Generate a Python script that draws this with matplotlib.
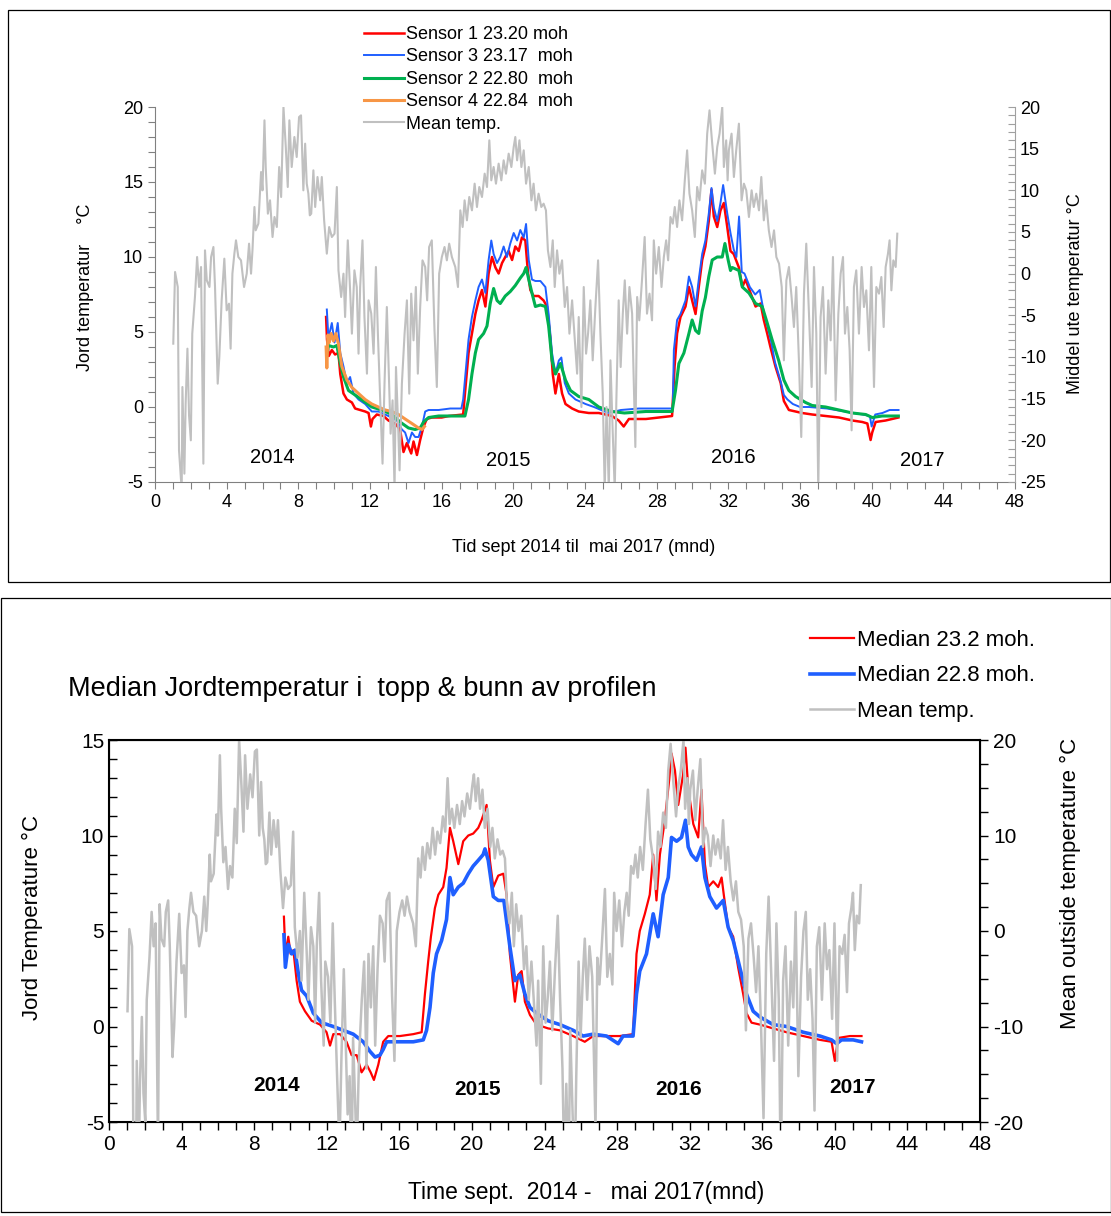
import matplotlib
matplotlib.use("Agg")
import matplotlib.pyplot as plt
from matplotlib.patches import Rectangle
from matplotlib.ticker import MultipleLocator
from matplotlib import font_manager

plt.rcParams['font.family'] = ['Liberation Sans', 'DejaVu Sans']
plt.rcParams['axes.unicode_minus'] = False

# condensed font for the lower x axis, if available
names = {f.name for f in font_manager.fontManager.ttflist}
NARROW = ['Liberation Sans Narrow', 'Liberation Sans'] if 'Liberation Sans Narrow' in names else ['Liberation Sans']

### Data (months since start, degC) ###
# daily mean outside temperature (same series in both panels, right axis)
mean_month = [
    1.02, 1.12, 1.27, 1.34, 1.49, 1.53, 1.64, 1.71, 1.81, 1.90,
    2.00, 2.08, 2.23, 2.35, 2.46, 2.57, 2.70, 2.79, 2.89, 3.04,
    3.13, 3.26, 3.35, 3.50, 3.59, 3.72, 3.87, 4.00, 4.13, 4.22,
    4.32, 4.43, 4.52, 4.65, 4.80, 4.97, 5.12, 5.25, 5.36, 5.44,
    5.55, 5.62, 5.77, 5.92, 6.00, 6.11, 6.18, 6.30, 6.42, 6.56,
    6.67, 6.80, 6.93, 7.04, 7.17, 7.30, 7.41, 7.50, 7.63, 7.78,
    7.91, 8.04, 8.15, 8.28, 8.38, 8.47, 8.56, 8.64, 8.72, 8.84,
    8.94, 9.07, 9.22, 9.31, 9.44, 9.59, 9.72, 9.87, 10.02, 10.15,
    10.24, 10.39, 10.52, 10.61, 10.76, 10.89, 10.99, 11.13, 11.26, 11.36,
    11.45, 11.58, 11.69, 11.83, 11.92, 12.07, 12.20, 12.33, 12.44, 12.57,
    12.70, 12.81, 12.94, 13.03, 13.15, 13.26, 13.37, 13.45, 13.56, 13.65,
    13.78, 13.93, 14.06, 14.19, 14.30, 14.43, 14.56, 14.67, 14.80, 14.93,
    15.08, 15.19, 15.30, 15.45, 15.60, 15.73, 15.86, 16.01, 16.16, 16.29,
    16.42, 16.57, 16.76, 16.91, 17.04, 17.17, 17.28, 17.41, 17.54, 17.69,
    17.84, 17.97, 18.10, 18.25, 18.40, 18.53, 18.66, 18.77, 18.90, 19.03,
    19.18, 19.33, 19.46, 19.59, 19.74, 19.89, 20.02, 20.11, 20.21, 20.34,
    20.45, 20.58, 20.71, 20.86, 21.01, 21.13, 21.26, 21.41, 21.56, 21.69,
    21.82, 21.93, 22.07, 22.20, 22.31, 22.44, 22.57, 22.72, 22.87, 23.00,
    23.13, 23.28, 23.43, 23.56, 23.65, 23.80, 23.93, 24.06, 24.17, 24.30,
    24.43, 24.58, 24.73, 24.86, 24.99, 25.10, 25.20, 25.33, 25.42, 25.55,
    25.66, 25.75, 25.88, 25.99, 26.11, 26.22, 26.35, 26.48, 26.63, 26.81,
    26.91, 27.03, 27.18, 27.33, 27.46, 27.60, 27.74, 27.84, 27.97, 28.12,
    28.27, 28.40, 28.53, 28.64, 28.77, 28.90, 29.01, 29.14, 29.27, 29.42,
    29.57, 29.70, 29.83, 29.98, 30.13, 30.26, 30.39, 30.54, 30.69, 30.82,
    30.95, 31.10, 31.25, 31.38, 31.51, 31.66, 31.75, 31.88, 31.96, 32.03,
    32.18, 32.31, 32.44, 32.59, 32.74, 32.87, 33.00, 33.15, 33.30, 33.42,
    33.56, 33.71, 33.84, 33.98, 34.11, 34.26, 34.41, 34.55, 34.68, 34.83,
    34.98, 35.10, 35.24, 35.38, 35.53, 35.66, 35.79, 35.94, 36.07, 36.22,
    36.35, 36.50, 36.65, 36.78, 36.91, 37.02, 37.15, 37.28, 37.43, 37.58,
    37.71, 37.84, 37.99, 38.14, 38.27, 38.40, 38.51, 38.64, 38.77, 38.88,
    39.01, 39.14, 39.29, 39.44, 39.57, 39.70, 39.85, 39.98, 40.13, 40.26,
    40.41, 40.54, 40.67, 40.78, 40.91, 41.00, 41.10, 41.21, 41.34, 41.43,
]
mean_temp = [
    -8.4, 0.2, -1.6, -21.2, -26, -13.6, -24, -15.6, -9, -17,
    -20, -7.2, -2.8, 2.0, -1.6, 0.8, -22.8, 2.8, -0.8, -1.6,
    2.0, 3.2, -1.6, -13.2, -10, -3.2, 1.8, -4.4, -3.6, -9,
    0, 2.4, 4.0, 2.0, 1.6, -1.6, 0, 3.6, 0, 2.8,
    8.0, 5.2, 6.0, 12.2, 10.0, 18.4, 12.8, 7.2, 8.8, 4.4,
    6.8, 5.6, 12.8, 9.2, 20, 15.2, 10.4, 18.4, 12.8, 16.4,
    14.0, 18.8, 19.0, 10.0, 15.6, 10.8, 9.6, 7.0, 7.2, 12.4,
    8.0, 11.6, 8.8, 11.6, 6.4, 2.4, 5.6, 4.4, 4.8, 10.4,
    0.4, -2.8, 0, -5.2, 4.0, -2.0, -7.2, 0.4, -1.6, -9.6,
    -1.6, 4.0, -5.2, -12, -3.2, -4.8, -9.6, 0.8, -7.2, -15.2,
    -22.8, -13.2, -4.0, -10.4, -19.2, -15.2, -26, -11.2, -17.6, -23.6,
    -13.2, -7.2, -3.2, -14.4, -2.4, -8, -1.6, -12, -4, 1.6,
    0.8, -3.2, 3.2, 4.0, -6.8, -13.6, 0, 2.0, 3.2, 1.6,
    3.6, 2.0, 0.8, -1.6, 7.6, 5.6, 8.8, 6.4, 9.2, 7.6,
    10.8, 8.0, 10.4, 9.2, 12.0, 10.4, 16, 11.2, 12.8, 10.8,
    13.2, 11.2, 13.6, 12.0, 14.4, 12.8, 15.2, 16.4, 13.6, 16,
    12.8, 14.8, 10.8, 12.8, 8.8, 10.8, 7.6, 9.6, 8.0, 8.4,
    7.6, 2.8, 0.8, 4.0, -1.6, 2.8, 0, 1.6, -4.0, -1.6,
    -7.2, -3.2, -8, -12, -5.2, -16, -1.6, -9.6, -7.2, -3.2,
    -10.4, -4.0, 1.6, -7.2, -14.4, -26, -16, -26, -10.4, -19.2,
    -26, -15.2, -3.2, -11.2, -4.8, -0.8, -7.2, -1.6, -4.8, -20.8,
    -2.8, -5.6, -0.8, 4.4, -4.8, -2.4, -5.6, 4.0, 0, 3.2,
    -1.6, 2.0, 4.0, 1.6, 6.8, 6.0, 8.0, 5.6, 8.8, 6.4,
    11.2, 14.8, 9.6, 7.6, 4.4, 10.4, 8.8, 12.4, 10.8, 16.8,
    19.6, 15.6, 12.0, 15.2, 16.8, 20, 12.8, 16.0, 11.2, 14.8,
    16.8, 11.6, 14.8, 18.0, 8.8, 10.8, 10.0, 6.8, 10.0, 8.0,
    9.6, 7.6, 11.6, 6.4, 8.8, 5.2, 3.2, 5.2, 2.0, 1.2,
    -1.6, -10.4, -0.8, 0.8, -2.8, -6.4, -1.6, -10.4, -19.6, -2.4,
    3.6, -4.8, -13.6, 0.8, -7.2, -26, -5.2, -1.6, -12, -3.2,
    -8, 2.0, -15.2, -4.8, 0, 2.0, -7.2, -4.0, -9.2, -18.8,
    -1.6, 0.4, -7.2, 0.8, -4.0, -2.0, -9.2, 0.8, -13.6, -1.6,
    -2.4, -0.4, -6.4, 0.8, 2.4, 4.0, -2.0, 1.6, 0.8, 4.8,
]

# top panel: soil sensors
s1_month = [
    9.55, 9.60, 9.70, 9.87, 10.05, 10.24, 10.34, 10.52, 10.71, 10.99,
    11.17, 11.45, 11.73, 11.92, 12.05, 12.14, 12.38, 12.75, 13.03, 13.40,
    13.68, 13.87, 14.06, 14.30, 14.43, 14.62, 14.80, 14.99, 15.17, 15.45,
    16.00, 16.40, 17.20, 17.30, 17.50, 17.69, 17.88, 18.06, 18.25, 18.44,
    18.62, 18.81, 19.00, 19.18, 19.37, 19.55, 19.74, 19.93, 20.11, 20.30,
    20.48, 20.67, 20.82, 20.95, 21.13, 21.41, 21.69, 21.88, 22.07, 22.20,
    22.35, 22.54, 22.72, 22.91, 23.28, 23.65, 24.21, 24.77, 25.50, 25.88,
    26.16, 26.45, 27.40, 28.86, 29.00, 29.14, 29.33, 29.61, 29.80, 29.98,
    30.17, 30.35, 30.54, 30.72, 30.91, 31.06, 31.19, 31.38, 31.56, 31.75,
    31.94, 32.12, 32.30, 32.59, 32.78, 32.96, 33.24, 33.52, 33.80, 33.98,
    34.17, 34.35, 34.63, 34.92, 35.10, 35.38, 35.75, 36.12, 36.68, 37.43,
    38.18, 38.92, 39.48, 39.76, 39.94, 40.03, 40.22, 40.78, 41.49,
]
s1_temp = [
    6.0, 4.5, 3.4, 3.8, 3.5, 3.6, 2.2, 0.9, 0.5, 0.3,
    -0.1, -0.2, -0.3, -0.4, -1.3, -0.8, -0.5, -0.6, -0.9, -1.1,
    -1.5, -3.0, -2.4, -3.1, -2.3, -3.2, -2.2, -1.3, -0.8, -0.7,
    -0.7, -0.6, -0.5, 0.9, 3.6, 4.9, 6.2, 7.1, 7.8, 6.7,
    8.9, 10.0, 9.3, 8.9, 9.6, 10.0, 10.4, 9.8, 10.7, 10.4,
    11.3, 11.1, 8.9, 7.8, 7.4, 7.4, 7.1, 6.7, 4.5, 2.2,
    0.9, 2.2, 0.9, 0.2, -0.1, -0.3, -0.4, -0.4, -0.6, -0.9,
    -1.3, -0.8, -0.8, -0.6, 2.7, 4.9, 6.0, 6.7, 8.0, 7.1,
    6.2, 8.0, 9.8, 10.7, 12.4, 14.5, 12.7, 12.0, 13.1, 13.6,
    12.0, 10.4, 10.2, 9.3, 8.0, 8.5, 7.6, 6.7, 6.9, 5.8,
    4.9, 4.0, 2.7, 1.6, 0.4, -0.2, -0.3, -0.4, -0.5, -0.6,
    -0.7, -0.9, -1.0, -1.1, -2.2, -1.7, -1.0, -0.9, -0.7,
]
s3_month = [
    9.59, 9.68, 9.87, 10.02, 10.20, 10.34, 10.52, 10.71, 10.89, 11.08,
    11.36, 11.73, 12.10, 12.47, 13.03, 13.50, 13.78, 13.96, 14.15, 14.34,
    14.52, 14.71, 14.90, 15.08, 15.27, 15.83, 16.48, 17.10, 17.20, 17.35,
    17.50, 17.69, 17.88, 18.06, 18.25, 18.44, 18.62, 18.77, 18.90, 19.09,
    19.27, 19.46, 19.64, 19.83, 20.02, 20.21, 20.39, 20.58, 20.71, 20.86,
    21.04, 21.23, 21.51, 21.79, 21.97, 22.16, 22.35, 22.54, 22.68, 22.87,
    23.10, 23.47, 24.03, 24.50, 25.30, 26.00, 27.00, 28.00, 28.90, 28.96,
    29.14, 29.33, 29.61, 29.80, 29.98, 30.17, 30.35, 30.54, 30.72, 30.91,
    31.06, 31.19, 31.38, 31.56, 31.71, 31.94, 32.12, 32.30, 32.45, 32.60,
    32.75, 32.90, 33.20, 33.50, 33.75, 34.00, 34.20, 34.40, 34.60, 34.90,
    35.10, 35.30, 35.60, 36.00, 36.50, 37.50, 38.50, 39.50, 39.90, 40.00,
    40.20, 40.60, 41.00, 41.50,
]
s3_temp = [
    6.5, 4.6, 5.6, 4.3, 5.6, 3.6, 2.7, 1.6, 2.0, 0.9,
    0.5, 0.2, -0.3, -0.3, -0.6, -0.9, -1.5, -1.7, -2.4, -1.7,
    -2.0, -2.0, -1.3, -0.3, -0.2, -0.2, -0.1, -0.1, 0.5, 2.5,
    4.5, 6.0, 7.1, 8.0, 8.5, 7.6, 9.8, 11.1, 10.2, 9.6,
    10.0, 10.7, 10.0, 10.9, 11.6, 11.1, 11.8, 11.3, 12.2, 9.8,
    8.5, 8.4, 8.4, 8.0, 6.2, 3.6, 2.2, 3.1, 3.3, 1.6,
    0.9, 0.5, 0.2, 0.0, -0.4, -0.2, -0.1, -0.1, -0.1, 3.8,
    5.8, 6.2, 7.1, 8.7, 8.0, 6.7, 8.5, 10.2, 11.1, 12.9,
    14.6, 13.3, 12.4, 13.6, 14.8, 12.9, 11.6, 10.5, 10.0, 12.7,
    9.0, 8.9, 8.0, 7.5, 7.8, 6.2, 5.3, 4.3, 3.0, 1.8,
    0.8, 0.5, 0.2, 0.0, 0.0, -0.1, -0.3, -0.5, -0.6, -1.3,
    -0.5, -0.4, -0.2, -0.2,
]
s2_month = [
    9.59, 9.68, 9.96, 10.15, 10.34, 10.52, 10.80, 11.17, 11.64, 12.10,
    12.66, 13.22, 13.68, 14.15, 14.52, 14.80, 14.99, 15.27, 15.83, 16.48,
    17.30, 17.50, 17.69, 17.88, 18.06, 18.34, 18.53, 18.71, 18.90, 19.09,
    19.27, 19.55, 19.83, 20.11, 20.39, 20.58, 20.71, 20.86, 21.04, 21.23,
    21.51, 21.79, 21.97, 22.16, 22.35, 22.63, 22.91, 23.19, 23.65, 24.21,
    24.77, 25.50, 26.20, 27.40, 28.86, 29.05, 29.24, 29.52, 29.80, 29.98,
    30.17, 30.35, 30.54, 30.72, 30.91, 31.10, 31.38, 31.66, 31.81, 31.99,
    32.12, 32.22, 32.59, 32.78, 33.15, 33.52, 33.89, 34.17, 34.44, 34.81,
    35.10, 35.38, 35.75, 36.31, 36.68, 37.43, 38.18, 38.92, 39.67, 40.03,
    40.59, 41.49,
]
s2_temp = [
    3.5, 4.1, 4.0, 4.1, 2.9, 2.0, 1.1, 0.8, 0.4, 0.0,
    -0.2, -0.5, -1.0, -1.4, -1.5, -1.4, -1.0, -0.7, -0.6, -0.6,
    -0.6, 0.5, 2.2, 3.6, 4.5, 4.9, 5.4, 6.9, 7.9, 7.1,
    6.9, 7.4, 7.7, 8.1, 8.6, 8.9, 9.3, 8.5, 7.6, 6.7,
    6.8, 6.7, 5.4, 3.1, 2.2, 2.9, 1.8, 1.1, 0.7, 0.5,
    0.0, -0.3, -0.4, -0.3, -0.3, 1.1, 2.9, 3.6, 4.9, 5.8,
    5.1, 4.9, 6.4, 7.3, 8.7, 9.8, 10.0, 10.0, 10.9, 9.8,
    9.1, 9.3, 9.1, 8.0, 7.6, 6.9, 6.7, 5.6, 4.5, 3.1,
    1.8, 1.1, 0.7, 0.3, 0.1, 0.0, -0.2, -0.4, -0.5, -0.7,
    -0.6, -0.6,
]
s4_month = [
    9.55, 9.59, 9.65, 9.72, 9.83, 9.96, 10.09, 10.24, 10.43, 10.71,
    10.99, 11.36, 11.73, 12.10, 12.47, 12.85, 13.22, 13.59, 13.96, 14.34,
    14.71, 14.90, 15.04,
]
s4_temp = [
    4.0, 2.6, 4.8, 4.3, 4.9, 4.4, 4.9, 4.2, 2.7, 1.8,
    1.3, 0.9, 0.5, 0.2, 0.0, -0.2, -0.3, -0.5, -0.8, -1.1,
    -1.4, -1.5, -1.3,
]

# bottom panel: medians
top_month = [
    9.64, 9.72, 9.88, 10.01, 10.16, 10.34, 10.52, 10.80, 11.17, 11.63,
    11.99, 12.18, 12.36, 12.73, 13.09, 13.37, 13.65, 13.92, 14.20, 14.42,
    14.60, 14.84, 15.11, 15.39, 16.03, 16.77, 17.23, 17.41, 17.59, 17.74,
    17.96, 18.15, 18.42, 18.60, 18.79, 18.97, 19.25, 19.52, 19.80, 20.07,
    20.35, 20.53, 20.81, 20.99, 21.18, 21.45, 21.73, 21.91, 22.09, 22.37,
    22.55, 22.74, 22.92, 23.20, 23.56, 24.20, 24.85, 25.58, 26.22, 26.68,
    28.15, 28.88, 29.07, 29.25, 29.53, 29.80, 29.99, 30.17, 30.36, 30.63,
    30.87, 31.00, 31.19, 31.37, 31.64, 31.77, 31.92, 32.20, 32.47, 32.65,
    32.84, 33.02, 33.30, 33.57, 33.76, 33.88, 34.12, 34.40, 34.67, 34.95,
    35.13, 35.41, 35.87, 36.60, 37.34, 38.26, 39.18, 39.82, 40.00, 40.19,
    40.83, 41.47,
]
top_temp = [
    5.75, 3.8, 4.7, 3.8, 4.0, 2.4, 1.3, 0.8, 0.3, 0.1,
    -0.3, -1.0, -0.4, -0.4, -0.8, -1.5, -1.5, -2.4, -2.0, -2.4,
    -2.8, -2.0, -0.8, -0.5, -0.5, -0.4, -0.3, 1.7, 3.4, 4.7,
    6.2, 6.9, 7.3, 8.3, 10.4, 9.7, 8.5, 9.7, 10.0, 10.1,
    10.4, 10.8, 11.6, 8.7, 7.3, 7.9, 8.0, 6.9, 3.8, 1.3,
    2.7, 2.9, 1.3, 0.6, 0.1, -0.1, -0.2, -0.5, -0.8, -0.5,
    -0.5, -0.4, 3.8, 5.0, 5.9, 6.9, 9.0, 6.6, 9.0, 10.8,
    12.9, 14.3, 13.4, 11.6, 13.2, 14.6, 12.5, 10.6, 9.9, 12.4,
    8.5, 7.3, 7.6, 7.3, 7.8, 6.9, 5.2, 4.7, 3.1, 1.7,
    0.7, 0.2, 0.1, -0.1, -0.3, -0.5, -0.7, -0.8, -1.8, -0.6,
    -0.5, -0.5,
]
bot_month = [
    9.64, 9.72, 9.88, 10.07, 10.25, 10.43, 10.61, 10.89, 11.26, 11.72,
    12.36, 12.91, 13.46, 14.01, 14.38, 14.66, 14.93, 15.11, 15.30, 15.66,
    16.03, 16.77, 17.32, 17.50, 17.69, 17.87, 18.05, 18.33, 18.60, 18.79,
    18.97, 19.25, 19.52, 19.80, 20.07, 20.35, 20.62, 20.72, 20.90, 21.18,
    21.45, 21.76, 22.09, 22.37, 22.64, 22.92, 23.20, 23.56, 24.20, 24.85,
    25.58, 26.13, 26.68, 27.42, 28.06, 28.33, 28.88, 29.07, 29.25, 29.62,
    29.99, 30.26, 30.54, 30.82, 31.00, 31.28, 31.55, 31.77, 31.92, 32.10,
    32.38, 32.65, 32.84, 33.11, 33.48, 33.85, 34.12, 34.40, 34.76, 35.13,
    35.50, 35.87, 36.60, 37.34, 38.26, 39.18, 39.82, 40.10, 40.37, 41.01,
    41.47,
]
bot_temp = [
    4.8, 3.1, 4.3, 3.8, 4.0, 2.8, 1.9, 1.6, 0.7, 0.2,
    0.0, -0.2, -0.4, -0.8, -1.3, -1.6, -1.5, -1.2, -0.8, -0.8,
    -0.8, -0.8, -0.7, -0.2, 1.0, 2.8, 3.8, 4.5, 5.6, 7.8,
    6.9, 7.3, 7.5, 8.0, 8.4, 8.7, 9.0, 9.3, 8.7, 6.8,
    6.6, 6.6, 4.2, 2.4, 2.7, 1.7, 1.0, 0.7, 0.3, 0.1,
    -0.2, -0.5, -0.4, -0.5, -0.9, -0.5, -0.5, 1.7, 2.9, 3.8,
    5.9, 4.7, 6.9, 7.8, 9.9, 9.7, 9.9, 10.8, 9.4, 9.0,
    8.7, 9.4, 7.8, 6.8, 6.2, 6.6, 5.2, 4.5, 3.1, 1.7,
    0.8, 0.5, 0.1, 0.0, -0.3, -0.5, -0.7, -0.9, -0.7, -0.7,
    -0.8,
]

years = ["2014", "2015", "2016", "2017"]
years_top_x = [6.55, 19.7, 32.3, 42.8]
years_top_y = [-3.4, -3.6, -3.4, -3.6]
years_bot_x = [9.25, 20.3, 31.4, 40.95]
years_bot_y = [-3.1, -3.3, -3.3, -3.2]

RED = '#ff0000'
BLUE = '#1f5fff'
GREEN = '#00b050'
ORANGE = '#f79646'
GRAY = '#c0c0c0'

W, H = 1111, 1216
fig = plt.figure(figsize=(W / 100, H / 100), dpi=100)

def fx(px):
    return px / W

def fy(py):
    return 1 - py / H

# panel frames
fig.add_artist(Rectangle((fx(8), fy(582)), fx(1102), 572 / H, transform=fig.transFigure,
                         fill=False, ec='black', lw=0.9))
fig.add_artist(Rectangle((fx(0.5), fy(1212)), fx(1110), 614 / H, transform=fig.transFigure,
                         fill=False, ec='black', lw=0.9))

### Top panel ###
ax1 = fig.add_axes([fx(155), fy(482), fx(860), 375 / H])
ax1.set_xlim(0, 48)
ax1.set_ylim(-5, 20)
for s in ['top', 'right']:
    ax1.spines[s].set_visible(False)
ax1.spines['left'].set_color('#808080')
ax1.spines['bottom'].set_color('#808080')
ax1.xaxis.set_major_locator(MultipleLocator(4))
ax1.xaxis.set_minor_locator(MultipleLocator(1))
ax1.yaxis.set_major_locator(MultipleLocator(5))
ax1.yaxis.set_minor_locator(MultipleLocator(1))
ax1.tick_params(which='both', direction='out', length=5, width=0.8, color='#808080', labelsize=13)

l1, = ax1.plot(s1_month, s1_temp, color=RED, lw=1.8, label='Sensor 1 23.20 moh')
l3, = ax1.plot(s3_month, s3_temp, color=BLUE, lw=1.4, label='Sensor 3 23.17  moh')
l2, = ax1.plot(s2_month, s2_temp, color=GREEN, lw=2.2, label='Sensor 2 22.80  moh')
l4, = ax1.plot(s4_month, s4_temp, color=ORANGE, lw=2.2, label='Sensor 4 22.84  moh')

ax1t = ax1.twinx()
ax1t.set_ylim(-25, 20)
for s in ['top', 'left', 'bottom']:
    ax1t.spines[s].set_visible(False)
ax1t.spines['right'].set_color('#a0a0a0')
ax1t.yaxis.set_major_locator(MultipleLocator(5))
ax1t.yaxis.set_minor_locator(MultipleLocator(1))
ax1t.tick_params(which='both', direction='in', length=5, width=0.8, color='#a0a0a0', labelsize=13)
lm, = ax1t.plot(mean_month, mean_temp, color=GRAY, lw=1.5, label='Mean temp.')

for txt, x, y in zip(years, years_top_x, years_top_y):
    ax1.text(x, y, txt, ha='center', va='center', fontsize=14.5)

fig.text(fx(86), fy(287), 'Jord temperatur    °C', rotation=90, ha='center', va='center', fontsize=13)
fig.text(fx(1075), fy(294), 'Middel ute temperatur °C', rotation=90, ha='center', va='center', fontsize=13)
fig.text(fx(584), fy(548), 'Tid sept 2014 til  mai 2017 (mnd)', ha='center', va='center', fontsize=13)

fig.legend(handles=[l1, l3, l2, l4, lm], loc='upper left', bbox_to_anchor=(fx(364), fy(26)),
           frameon=False, fontsize=13, handlelength=2.2, handletextpad=0.15,
           labelspacing=0.3, borderpad=0, borderaxespad=0)

### Bottom panel ###
ax2 = fig.add_axes([fx(109), fy(1122), fx(871), 382 / H])
ax2.set_xlim(0, 48)
ax2.set_ylim(-5, 15)
for s in ax2.spines.values():
    s.set_linewidth(1.5)
ax2.xaxis.set_major_locator(MultipleLocator(4))
ax2.xaxis.set_minor_locator(MultipleLocator(1))
ax2.yaxis.set_major_locator(MultipleLocator(5))
ax2.yaxis.set_minor_locator(MultipleLocator(1))
ax2.tick_params(axis='y', which='both', direction='in', length=6, width=1, labelsize=15)
ax2.tick_params(axis='x', which='both', direction='out', length=6, width=1, labelsize=15)
for lab in ax2.get_xticklabels():
    lab.set_family(NARROW)

lr, = ax2.plot(top_month, top_temp, color=RED, lw=1.6, label='Median 23.2 moh.')
lb, = ax2.plot(bot_month, bot_temp, color=BLUE, lw=2.6, label='Median 22.8 moh.')

ax2t = ax2.twinx()
ax2t.set_ylim(-20, 20)
ax2t.yaxis.set_major_locator(MultipleLocator(10))
ax2t.yaxis.set_minor_locator(MultipleLocator(2.5))
ax2t.tick_params(which='both', direction='out', length=6, width=1, labelsize=15)
lm2, = ax2t.plot(mean_month, mean_temp, color=GRAY, lw=1.8, label='Mean temp.')

for txt, x, y in zip(years, years_bot_x, years_bot_y):
    ax2.text(x, y, txt, ha='center', va='center', fontsize=15, fontweight='bold')

fig.text(fx(68), fy(689), 'Median Jordtemperatur i  topp & bunn av profilen', ha='left', va='center',
         fontsize=19.5)
fig.text(fx(32), fy(917), 'Jord Temperature °C', rotation=90, ha='center', va='center', fontsize=16)
fig.text(fx(1070), fy(883), 'Mean outside temperature °C', rotation=90, ha='center', va='center',
         fontsize=16)
fig.text(fx(586), fy(1192), 'Time sept.  2014 -   mai 2017(mnd)', ha='center', va='center',
         fontsize=16.5, family=NARROW)

fig.legend(handles=[lr, lb, lm2], loc='upper left', bbox_to_anchor=(fx(810), fy(630)),
           frameon=False, fontsize=16, handlelength=2.0, handletextpad=0.1,
           labelspacing=0.65, borderpad=0, borderaxespad=0)

fig.savefig('out.png', dpi=100)
